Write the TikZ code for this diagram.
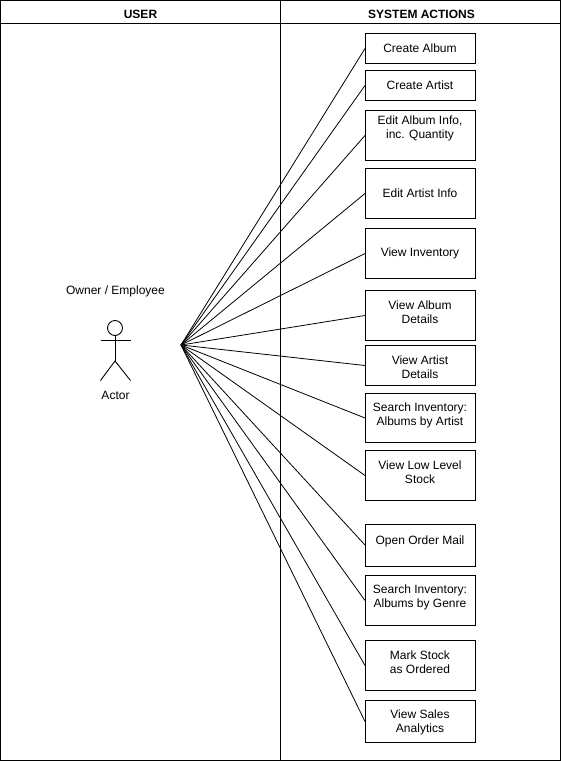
\documentclass[tikz,border=0pt]{standalone}
\usepackage{fontspec}
\setmainfont{Liberation Sans}
\tikzset{
  frame/.style={draw=black,line width=1pt,outer sep=0pt},
  action/.style={draw=black,line width=1pt,fill=white,minimum width=110pt,inner sep=0pt,anchor=north west},
  txt/.style={font=\fontsize{12}{14}\selectfont,align=center,inner sep=0pt,text=black},
  head/.style={font=\fontsize{12}{14}\selectfont\bfseries,inner sep=0pt,text=black},
  link/.style={draw=black,line width=0.8pt},
  stick/.style={draw=black,line width=0.9pt}
}
% name, top, height, text centre y, text
\newcommand{\actbox}[5]{%
  \node[action,minimum height=#3 pt] (#1) at (365.5,#2) {};
  \node[txt] (#1t) at (420.5,#4) {#5};
}
\begin{document}
\begin{tikzpicture}[x=1pt,y=-1pt]
\useasboundingbox (0.5,0.5) rectangle (561.5,761.5);
\node[frame,minimum width=280pt,minimum height=760pt,inner sep=0pt,anchor=north west] (laneA) at (1,1) {};
\node[frame,minimum width=280pt,minimum height=760pt,inner sep=0pt,anchor=north west] (laneB) at (281,1) {};
\draw[frame] (laneA.north west |- 0,24) coordinate (ha) -- (laneB.north east |- 0,24) coordinate (hb);
\node[head] (user) at (141,14.5) {USER};
\node[head] (sys) at (422,14.5) {SYSTEM ACTIONS};
\node[txt] (owner) at (116,292) {Owner / Employee};
\coordinate (hub) at (181.5,345.5);
\actbox{a1}{33.5}{30}{48.5}{Create Album}
\actbox{a2}{70.5}{30}{85.5}{Create Artist}
\actbox{a3}{110.5}{50}{128.5}{Edit Album Info,\\inc. Quantity}
\actbox{a4}{168.5}{50}{193.5}{Edit Artist Info}
\actbox{a5}{228.5}{50}{253.5}{View Inventory}
\actbox{a6}{290.5}{50}{312.5}{View Album\\Details}
\actbox{a7}{345.5}{40}{367.5}{View Artist\\Details}
\actbox{a8}{393.5}{49}{415.5}{Search Inventory:\\Albums by Artist}
\actbox{a9}{450.5}{50}{472.5}{View Low Level\\Stock}
\actbox{a10}{524}{42}{541.5}{Open Order Mail}
\actbox{a11}{575.5}{50}{597.5}{Search Inventory:\\Albums by Genre}
\actbox{a12}{640.5}{50}{662.5}{Mark Stock\\as Ordered}
\actbox{a13}{700.5}{42}{722.5}{View Sales\\Analytics}
\foreach \n in {a1,a2,a3,a4,a5,a6,a7,a8,a9,a10,a11,a12,a13}{\draw[link] (hub) -- (\n.west);}
\draw[stick] (115.5,328.5) circle (7.5);
\draw[stick] (115.5,336) coordinate (neck) -- (115.5,361.5) coordinate (hip);
\draw[stick] (101,340.5) -- (131,340.5);
\draw[stick] (101,381) -- (hip) -- (131,381);
\node[txt] (actor) at (116,395.5) {Actor};
\end{tikzpicture}
\end{document}
